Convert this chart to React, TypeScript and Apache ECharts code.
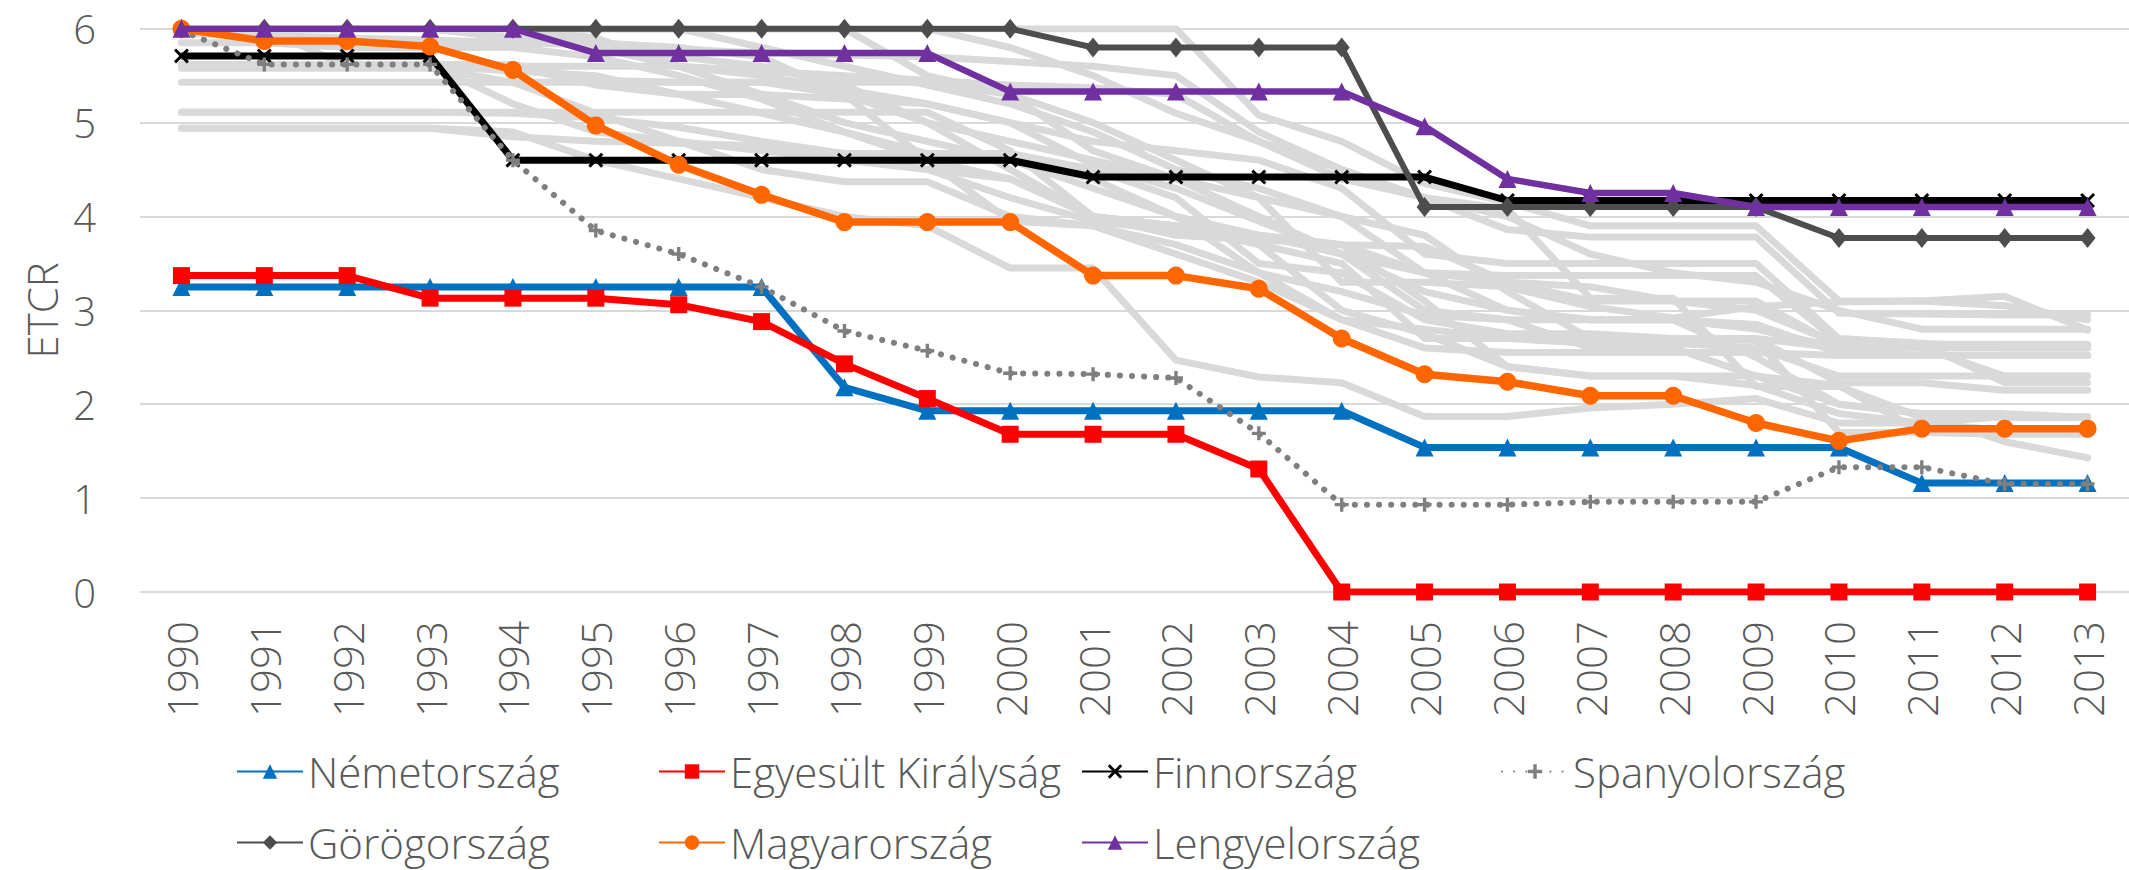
import React, { useEffect, useRef } from "react";
import * as echarts from "echarts";

const years = ["1990","1991","1992","1993","1994","1995","1996","1997","1998","1999","2000","2001","2002","2003","2004","2005","2006","2007","2008","2009","2010","2011","2012","2013"];

const nemetorszag = [3.25,3.25,3.25,3.25,3.25,3.25,3.25,3.25,2.18,1.93,1.93,1.93,1.93,1.93,1.93,1.54,1.54,1.54,1.54,1.54,1.54,1.16,1.16,1.16];
const egyesultKiralysag = [3.37,3.37,3.37,3.13,3.13,3.13,3.06,2.88,2.43,2.06,1.68,1.68,1.68,1.31,0,0,0,0,0,0,0,0,0,0];
const finnorszag = [5.71,5.71,5.71,5.71,4.6,4.6,4.6,4.6,4.6,4.6,4.6,4.42,4.42,4.42,4.42,4.42,4.17,4.17,4.17,4.17,4.17,4.17,4.17,4.17];
const spanyolorszag = [5.98,5.62,5.62,5.62,4.6,3.85,3.6,3.25,2.78,2.57,2.33,2.32,2.28,1.69,0.93,0.93,0.93,0.96,0.96,0.96,1.33,1.33,1.15,1.15];
const gorogorszag = [6,6,6,6,6,6,6,6,6,6,6,5.8,5.8,5.8,5.8,4.1,4.1,4.1,4.1,4.1,3.77,3.77,3.77,3.77];
const magyarorszag = [6,5.87,5.87,5.81,5.56,4.97,4.55,4.23,3.94,3.94,3.94,3.37,3.37,3.23,2.7,2.32,2.24,2.09,2.09,1.8,1.61,1.74,1.74,1.74];
const lengyelorszag = [6,6,6,6,6,5.74,5.74,5.74,5.74,5.74,5.33,5.33,5.33,5.33,5.33,4.96,4.4,4.25,4.25,4.1,4.1,4.1,4.1,4.1];

// other OECD countries (grey background lines)
const other01 = [6,6,6,6,6,6,6,6,6,6,6,6,6,5.08,4.8,4.35,4.15,3.9,3.9,3.9,3.1,3.1,3.15,2.79];
const other02 = [6,6,6,6,6,6,6,6,6,5.5,5.3,5.0,4.6,4.2,4.0,3.4,3.37,3.37,3.37,3.37,2.66,2.64,2.23,2.23];
const other03 = [6,6,5.6,5.6,5.6,5.6,5.6,5.55,5.5,5.45,5.4,5.37,5.3,4.8,4.4,4.2,3.86,3.78,3.78,3.78,2.97,2.96,2.95,2.95];
const other04 = [6,6,6,6,6,5.9,5.6,5.3,5.0,4.8,4.6,4.3,4.0,3.8,3.7,3.4,3.3,3.1,3.1,3.1,2.62,2.62,2.62,2.62];
const other05 = [5.95,5.93,5.9,5.88,5.85,5.83,5.78,5.74,5.72,5.7,5.65,5.6,5.5,4.9,4.5,4.2,4.08,3.13,3.13,2.19,2.19,1.86,1.86,1.86];
const other06 = [5.85,5.85,5.8,5.8,5.8,5.7,5.5,5.25,4.9,4.6,4.4,4.0,3.9,3.8,3.6,3.0,2.9,2.9,2.9,2.8,2.6,2.6,2.6,2.6];
const other07 = [5.62,5.62,5.62,5.62,5.62,5.45,5.43,5.43,5.43,5.43,5.3,4.7,4.4,4.0,3.6,3.2,3.0,2.9,2.9,2.85,2.55,2.52,2.52,2.52];
const other08 = [5.62,5.62,5.62,5.62,5.2,4.9,4.8,4.7,4.6,4.5,4.4,4.0,3.9,3.7,3.5,2.7,2.7,2.65,2.65,2.6,2.3,2.3,2.3,2.3];
const other09 = [5.6,5.6,5.6,5.6,5.55,5.5,5.3,5.1,4.9,4.67,4.67,4.5,4.2,3.5,3.4,2.9,2.75,2.75,2.7,2.7,2.23,2.23,2.15,2.15];
const other10 = [5.58,5.58,5.58,5.58,5.43,5.1,4.8,4.5,4.37,4.37,4.0,3.9,3.7,3.4,2.9,2.8,2.7,2.7,2.7,2.68,1.7,1.7,1.7,1.7];
const other11 = [5.43,5.43,5.43,5.43,5.43,5.43,5.43,5.43,5.3,5.0,4.8,4.6,4.4,4.2,3.3,3.3,3.25,3.04,2.92,3.04,3.09,3.1,3.05,2.9];
const other12 = [5.11,5.11,5.11,5.11,5.11,5.11,5.11,5.11,5.11,5.11,4.7,4.0,3.8,3.75,3.7,3.68,3.3,3.25,3.1,3.0,2.64,2.64,2.64,2.64];
const other13 = [5.11,5.11,5.11,5.11,5.1,5.05,4.95,4.8,4.67,4.67,4.6,4.4,4.0,3.4,3.2,2.95,2.9,2.6,2.6,2.3,2.0,1.9,1.9,1.86];
const other14 = [4.94,4.94,4.94,4.94,4.85,4.8,4.78,4.75,4.65,4.5,4.2,3.95,3.85,3.8,3.7,3.1,2.4,2.3,2.3,2.3,2.2,1.7,1.68,1.68];
const other15 = [4.94,4.94,4.94,4.94,4.9,4.6,4.4,4.2,4.0,3.9,3.45,3.45,2.47,2.29,2.23,1.87,1.87,1.96,2.0,2.06,1.8,1.8,1.87,1.87];
const other16 = [6,6,6,6,6,6,6,5.8,5.6,5.4,5.2,4.9,4.5,4.3,4.0,3.8,3.2,2.7,2.7,2.7,2.6,2.6,2.3,2.3];
const other17 = [6,6,6,6,6,6,6,6,6,6,5.8,5.5,5.1,4.8,4.5,4.2,4.0,3.6,3.4,3.3,3.0,2.8,2.8,2.8];
const other18 = [6,6,6,6,5.9,5.8,5.7,5.6,5.4,5.0,4.5,4.0,3.9,3.7,3.0,2.75,2.4,2.3,2.3,2.2,1.9,1.8,1.72,1.72];
const other19 = [5.62,5.62,5.62,5.62,5.6,5.4,5.3,5.3,5.25,5.2,5.0,4.55,4.3,3.95,3.6,3.4,3.0,2.9,2.9,2.5,2.0,1.9,1.6,1.43];
const other20 = [6,6,6,6,6,5.8,5.6,5.5,5.35,5.2,5.0,4.8,4.7,4.6,4.3,3.6,3.5,3.5,3.5,3.5,2.7,2.65,2.6,2.6];
const other21 = [6,6,6,6,5.9,5.85,5.8,5.7,5.3,4.6,3.95,3.9,3.6,3.3,2.9,2.6,2.55,2.55,2.55,2.55,2.52,2.52,2.52,2.52];

const otherCountries = [other01,other02,other03,other04,other05,other06,other07,other08,other09,other10,other11,other12,other13,other14,other15,other16,other17,other18,other19,other20,other21];

const FONT = "'Open Sans', sans-serif";
const TEXT = "#595959";
const CROSS = "path://M0,1.4 L1.4,0 L5,3.6 L8.6,0 L10,1.4 L6.4,5 L10,8.6 L8.6,10 L5,6.4 L1.4,10 L0,8.6 L3.6,5 Z";
const STAR = "path://M3.8,0 L6.2,0 L6.2,3.8 L10,3.8 L10,6.2 L6.2,6.2 L6.2,10 L3.8,10 L3.8,6.2 L0,6.2 L0,3.8 L3.8,3.8 Z";

interface Hl { name: string; data: number[]; color: string; symbol: string; size: number | number[]; width: number; dotted?: boolean; }

const highlighted: Hl[] = [
  { name: "Németország", data: nemetorszag, color: "#0070C0", symbol: "triangle", size: 18, width: 7 },
  { name: "Egyesült Királyság", data: egyesultKiralysag, color: "#FF0000", symbol: "rect", size: 17, width: 7 },
  { name: "Finnország", data: finnorszag, color: "#000000", symbol: CROSS, size: 15, width: 7 },
  { name: "Spanyolország", data: spanyolorszag, color: "#7F7F7F", symbol: STAR, size: 14, width: 6, dotted: true },
  { name: "Görögország", data: gorogorszag, color: "#4D4D4D", symbol: "diamond", size: [16, 20], width: 6 },
  { name: "Magyarország", data: magyarorszag, color: "#FF6600", symbol: "circle", size: 18, width: 7.5 },
  { name: "Lengyelország", data: lengyelorszag, color: "#7030A0", symbol: "triangle", size: 18, width: 6.5 },
];

const legendPos = [
  [236, 774], [658, 774], [1081, 774], [1501, 774],
  [236, 845], [658, 845], [1081, 845],
];

export default function App() {
  const ref = useRef<HTMLDivElement>(null);
  useEffect(() => {
    if (!ref.current) return;
    const chart = echarts.init(ref.current, null, { renderer: "svg" });
    const greySeries = otherCountries.map((d, i) => ({
      name: "other" + i,
      type: "line",
      data: d,
      symbol: "none",
      silent: true,
      z: 1,
      lineStyle: { color: "#D9D9D9", width: 7, cap: "round", join: "round" },
      itemStyle: { color: "#D9D9D9" },
    }));
    const hlSeries = highlighted.map((h, i) => ({
      name: h.name,
      type: "line",
      data: h.data,
      symbol: h.symbol,
      symbolSize: h.size,
      showAllSymbol: true,
      z: 3 + i,
      lineStyle: h.dotted
        ? { color: h.color, width: h.width, type: [0.1, 12], cap: "round" }
        : { color: h.color, width: h.width, join: "round" },
      itemStyle: { color: h.color, borderWidth: 0 },
    }));
    const legends = highlighted.map((h, i) => ({
      data: [h.name],
      left: legendPos[i][0],
      top: legendPos[i][1] - 23.5,
      padding: 0,
      itemWidth: 66,
      itemHeight: 18,
      itemGap: 0,
      selectedMode: false,
      textStyle: { fontFamily: FONT, fontSize: 42, color: TEXT, fontWeight: 300 },
    }));
    chart.setOption({
      animation: false,
      backgroundColor: "#ffffff",
      grid: { left: 140, right: -16, top: 28.7, bottom: 278, containLabel: false },
      legend: legends,
      xAxis: {
        type: "category",
        data: years,
        boundaryGap: true,
        axisLine: { show: false },
        axisTick: { show: false },
        axisLabel: { rotate: 90, margin: 29, fontSize: 42, color: TEXT, fontFamily: FONT, fontWeight: 300, interval: 0 },
      },
      yAxis: {
        type: "value",
        min: 0,
        max: 6,
        interval: 1,
        name: "ETCR",
        nameLocation: "middle",
        nameRotate: 90,
        nameGap: 78,
        nameTextStyle: { fontSize: 42, color: TEXT, fontFamily: FONT, fontWeight: 300 },
        axisLine: { show: false },
        axisTick: { show: false },
        axisLabel: { margin: 44, fontSize: 40, color: TEXT, fontFamily: FONT, fontWeight: 300 },
        splitLine: { lineStyle: { color: "#D9D9D9", width: 2 } },
      },
      series: [...greySeries, ...hlSeries],
    });
    return () => chart.dispose();
  }, []);
  return (
    <div
      ref={ref}
      style={{ position: "fixed", left: 0, top: 0, width: 2129, height: 870, background: "#ffffff" }}
    />
  );
}
